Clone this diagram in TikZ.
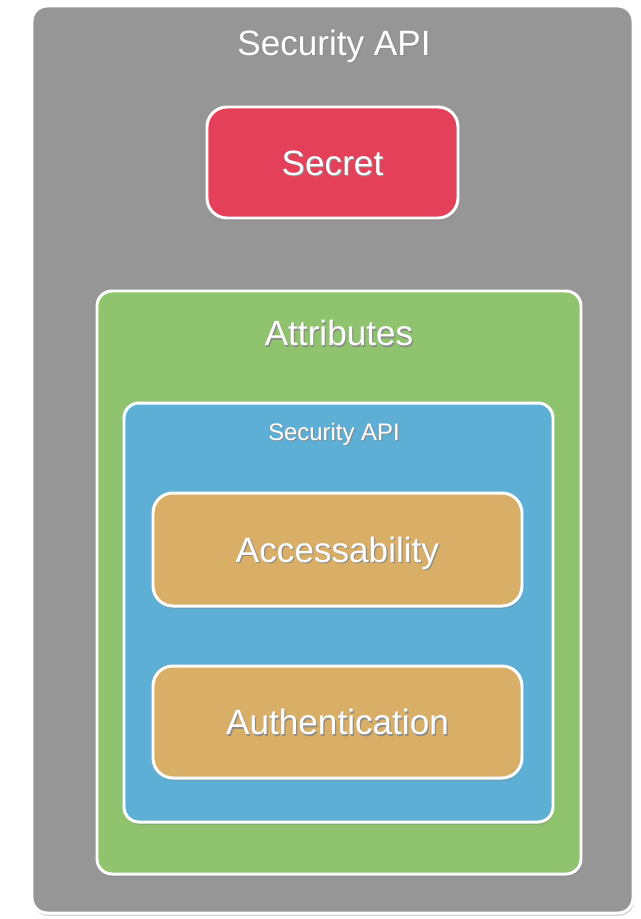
\documentclass[tikz,border=0pt]{standalone}
\usepackage{fontspec}
\setmainfont{Liberation Sans}
\usepackage{tikz}
\usetikzlibrary{positioning, calc, shadows}
\definecolor{apigray}{HTML}{969696}
\definecolor{secretred}{HTML}{E4405A}
\definecolor{attrgreen}{HTML}{8FC36E}
\definecolor{innerblue}{HTML}{5EAFD6}
\definecolor{itemtan}{HTML}{D9AF67}
% white text with a soft shadow, caps centred on the node
\newcommand{\Shadowed}[1]{\raisebox{-0.358em}[0pt][0pt]{\makebox[0pt][l]{\hspace{0.7pt}\raisebox{-1pt}{\textcolor{black!45}{#1}}}\textcolor{white}{#1}}}
\tikzset{
    panel/.style={draw=white, line width=1.7pt, rounded corners=0.3cm,
      drop shadow={opacity=0.35, shadow xshift=0.6pt, shadow yshift=-1.6pt}},
    item/.style={panel, rounded corners=0.4cm},
    bigtext/.style={font=\fontsize{20}{24}\selectfont},
    smalltext/.style={font=\fontsize{13.6}{16}\selectfont},
}
\begin{document}
\begin{tikzpicture}
    \useasboundingbox (0,0) rectangle (12.82,-18.38);

    % containers, outside in
    \node[panel, fill=apigray, minimum width=12.02cm, minimum height=18.14cm] (api) at (6.65,-9.19) {};
    \node[item, fill=secretred, minimum width=5.02cm, minimum height=2.22cm, bigtext] (secret) at (6.65,-3.25) {\Shadowed{Secret}};
    \node[panel, fill=attrgreen, minimum width=9.68cm, minimum height=11.66cm] (attr) at (6.78,-11.65) {};
    \node[panel, fill=innerblue, minimum width=8.58cm, minimum height=8.38cm] (inner) at (6.77,-12.25) {};
    \node[item, fill=itemtan, minimum width=7.38cm, minimum height=2.26cm, bigtext] (access) at (6.75,-10.99) {\Shadowed{Accessability}};
    \node[item, fill=itemtan, minimum width=7.38cm, minimum height=2.24cm, bigtext] (auth) at (6.75,-14.44) {\Shadowed{Authentication}};

    % titles
    \node[bigtext] (apititle) at ($(api.north)+(0.03,-0.76)$) {\Shadowed{Security API}};
    \node[bigtext] (attrtitle) at ($(attr.north)+(0,-0.87)$) {\Shadowed{Attributes}};
    \node[smalltext] (innertitle) at ($(inner.north)+(-0.09,-0.6)$) {\Shadowed{Security API}};
\end{tikzpicture}
\end{document}
